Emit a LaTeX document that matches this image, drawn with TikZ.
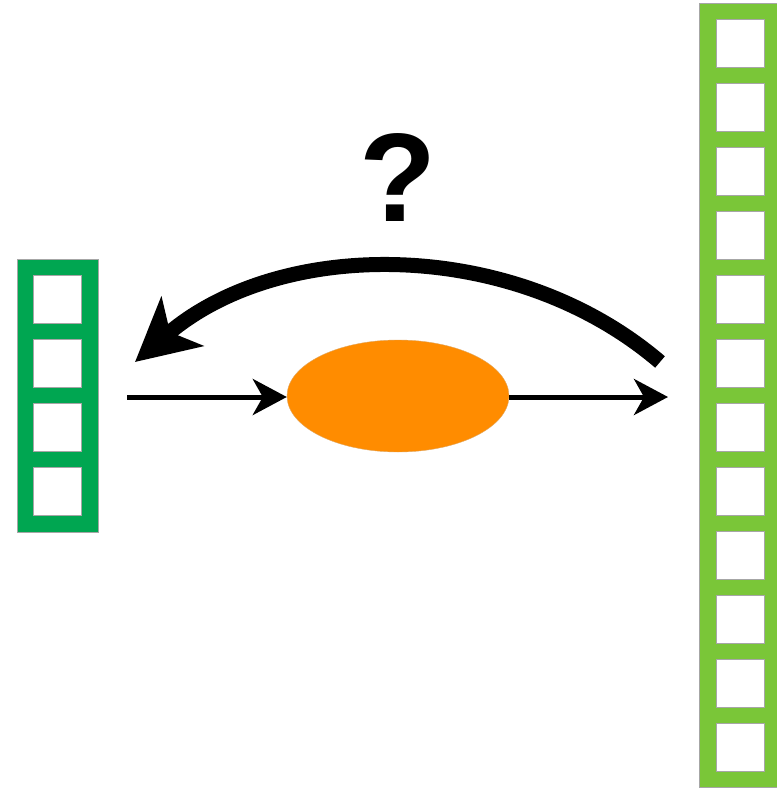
\documentclass[tikz,border=0pt]{standalone}
\usepackage{fontspec}
\setmainfont{Liberation Sans}
\usetikzlibrary{shapes.geometric,arrows.meta}
\definecolor{leftgreen}{RGB}{0,166,81}
\definecolor{rightgreen}{RGB}{122,198,56}
\definecolor{orng}{RGB}{255,140,0}
\tikzset{
  colbox/.style={draw=black!35,line width=0.8pt,inner sep=0pt,minimum width=#1},
  cell/.style={draw=black!35,line width=0.8pt,fill=white,inner sep=0pt,minimum width=48pt,minimum height=48pt},
  thinarrow/.style={line width=5pt,-{Stealth[length=34pt,width=36pt,inset=10pt]}},
  bigarrow/.style={line width=15pt,-{Stealth[length=62pt,width=64pt,inset=16pt]}}
}
\begin{document}
\begin{tikzpicture}[x=1pt,y=-1pt]
\useasboundingbox (0,0) rectangle (776,789);
% left column
\node[colbox=81pt,minimum height=273pt,fill=leftgreen] (L) at (57.5,395.5) {};
\foreach \i in {0,...,3}{
  \node[cell] (l\i) at (57.5,299.5+64*\i) {};
}
% right column
\node[colbox=82pt,minimum height=784pt,fill=rightgreen] (R) at (740,395) {};
\foreach \i in {0,...,11}{
  \node[cell] (r\i) at (740,43.5+64*\i) {};
}
% ellipse
\node[ellipse,fill=orng,draw=orng!80!black!60,line width=0.4pt,minimum width=222pt,minimum height=112pt,inner sep=0pt] (E) at (398,396) {};
\coordinate (a) at (127,397);
\coordinate (b) at (668,397);
\draw[thinarrow] (a) -- (E.west |- a);
\draw[thinarrow] (E.east |- b) -- (b);
% curved arrow
\coordinate (cs) at (660,362);
\coordinate (ce) at (135,362);
\draw[bigarrow] (cs) .. controls (514,237) and (281,237) .. (ce);
\node[font=\bfseries\fontsize{126}{126}\selectfont,inner sep=0pt,anchor=base] (q) at (398,221) {?};
\end{tikzpicture}
\end{document}
